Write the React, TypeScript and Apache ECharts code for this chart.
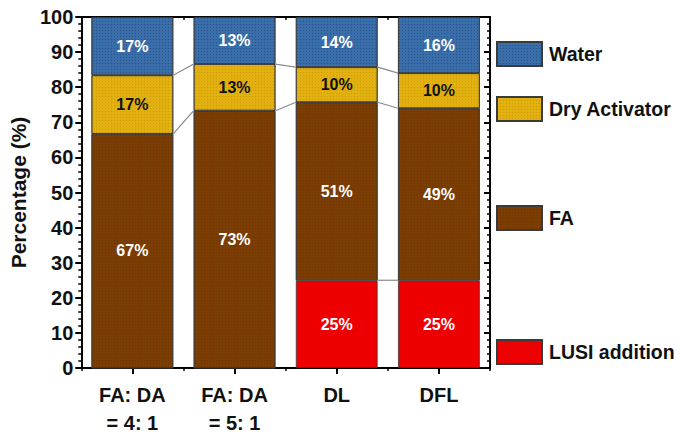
import React, { useEffect, useRef } from "react";
import * as echarts from "echarts";

const categories = ["FA: DA\n= 4: 1", "FA: DA\n= 5: 1", "DL", "DFL"];
const lusi = [0, 0, 25, 25];
const fa = [66.7, 73.3, 50.7, 49];
const da = [16.7, 13.3, 10, 10];
const water = [16.6, 13.4, 14.3, 16];
const yTicks = { min: 0, max: 100, interval: 10 };

const FONT = "'Liberation Sans', Arial, sans-serif";

export default function App() {
  const ref = useRef<HTMLDivElement>(null);
  useEffect(() => {
    if (!ref.current) return;
    const chart = echarts.init(ref.current, null, { renderer: "svg" });

    // connector lines between adjacent bars at stack boundaries
    const connectors: number[][] = [];
    for (let i = 0; i < categories.length - 1; i++) {
      const b1a = lusi[i], b1b = lusi[i + 1];
      const b2a = lusi[i] + fa[i], b2b = lusi[i + 1] + fa[i + 1];
      const b3a = b2a + da[i], b3b = b2b + da[i + 1];
      if (b1a > 0 && b1b > 0) connectors.push([i, b1a, b1b]);
      connectors.push([i, b2a, b2b]);
      connectors.push([i, b3a, b3b]);
    }

    const border = { borderColor: "#3a3a3a", borderWidth: 0.8 };
    const lbl = (color: string) => ({
      show: true,
      position: "inside" as const,
      color,
      fontFamily: FONT,
      fontWeight: "bold" as const,
      fontSize: 16,
      formatter: (p: any) => (p.value > 0 ? Math.round(p.value) + "%" : ""),
    });

    const catAxisBase = {
      type: "category" as const,
      data: categories,
      boundaryGap: true,
    };

    const legendBase = (name: string, top: number) => ({
      show: true,
      data: [name],
      left: 491,
      top,
      orient: "vertical" as const,
      itemWidth: 45,
      itemHeight: 24,
      icon: "rect",
      selectedMode: false,
      textStyle: {
        fontFamily: FONT,
        fontWeight: "bold" as const,
        fontSize: 19.5,
        color: "#111",
        padding: [0, 0, 0, 2],
      },
    });

    chart.setOption({
      animation: false,
      backgroundColor: "#fff",
      textStyle: { fontFamily: FONT },
      grid: { left: 77, right: 190, top: 17, bottom: 63, containLabel: false },
      legend: [
        legendBase("Water", 36),
        legendBase("Dry Activator", 91),
        legendBase("FA", 200),
        legendBase("LUSI addition", 334),
      ],
      xAxis: [
        {
          ...catAxisBase,
          position: "bottom",
          axisLine: { show: true, lineStyle: { color: "#000", width: 2 } },
          axisTick: { show: true, alignWithLabel: true, length: 6, lineStyle: { color: "#000", width: 2 } },
          axisLabel: {
            color: "#111",
            fontFamily: FONT,
            fontWeight: "bold",
            fontSize: 20,
            lineHeight: 28,
            margin: 13,
          },
          splitLine: { show: false },
        },
        {
          ...catAxisBase,
          position: "bottom",
          axisLine: { show: false },
          axisTick: { show: true, alignWithLabel: false, length: 3, lineStyle: { color: "#000", width: 1.5 } },
          axisLabel: { show: false },
          splitLine: { show: false },
        },
        {
          ...catAxisBase,
          position: "top",
          axisLine: { show: true, lineStyle: { color: "#000", width: 2 } },
          axisTick: { show: true, inside: true, alignWithLabel: true, length: 6, lineStyle: { color: "#000", width: 2 } },
          axisLabel: { show: false },
          splitLine: { show: false },
        },
        {
          ...catAxisBase,
          position: "top",
          axisLine: { show: false },
          axisTick: { show: true, inside: true, alignWithLabel: false, length: 3, lineStyle: { color: "#000", width: 1.5 } },
          axisLabel: { show: false },
          splitLine: { show: false },
        },
      ],
      yAxis: [
        {
          type: "value",
          position: "left",
          ...yTicks,
          name: "Percentage (%)",
          nameLocation: "middle",
          nameRotate: 90,
          nameGap: 50,
          nameTextStyle: { color: "#111", fontFamily: FONT, fontWeight: "bold", fontSize: 21 },
          axisLine: { show: true, lineStyle: { color: "#000", width: 2 } },
          axisTick: { show: true, length: 6, lineStyle: { color: "#000", width: 2 } },
          minorTick: { show: true, splitNumber: 5, length: 3, lineStyle: { color: "#000", width: 1.5 } },
          axisLabel: { color: "#111", fontFamily: FONT, fontWeight: "bold", fontSize: 20, margin: 8 },
          splitLine: { show: false },
          minorSplitLine: { show: false },
        },
        {
          type: "value",
          position: "right",
          ...yTicks,
          axisLine: { show: true, lineStyle: { color: "#000", width: 2 } },
          axisTick: { show: true, inside: true, length: 6, lineStyle: { color: "#000", width: 2 } },
          minorTick: { show: true, splitNumber: 5, length: 3, lineStyle: { color: "#000", width: 1.5 } },
          axisLabel: { show: false },
          splitLine: { show: false },
          minorSplitLine: { show: false },
        },
      ],
      series: [
        {
          name: "LUSI addition",
          type: "bar",
          stack: "total",
          barWidth: "80%",
          data: lusi,
          itemStyle: { color: "#ee0000", ...border },
          label: lbl("#fff"),
        },
        {
          name: "FA",
          type: "bar",
          stack: "total",
          barWidth: "80%",
          data: fa,
          itemStyle: {
            color: "#7b3d02",
            ...border,
            decal: { symbol: "rect", symbolSize: 1, dashArrayX: [1, 2], dashArrayY: [1, 2], color: "rgba(0,0,0,0.12)" },
          },
          label: lbl("#fff"),
        },
        {
          name: "Dry Activator",
          type: "bar",
          stack: "total",
          barWidth: "80%",
          data: da,
          itemStyle: {
            color: "#e2b10f",
            ...border,
            decal: { symbol: "rect", symbolSize: 1, dashArrayX: [1, 2], dashArrayY: [1, 2], color: "rgba(140,90,0,0.25)" },
          },
          label: lbl("#111"),
        },
        {
          name: "Water",
          type: "bar",
          stack: "total",
          barWidth: "80%",
          data: water,
          itemStyle: {
            color: "#3a6eab",
            ...border,
            decal: { symbol: "rect", symbolSize: 1, dashArrayX: [1, 2], dashArrayY: [1, 2], color: "rgba(10,30,70,0.35)" },
          },
          label: lbl("#fff"),
        },
        {
          name: "connectors",
          type: "custom",
          data: connectors,
          encode: { x: 0, y: 1 },
          silent: true,
          z: 3,
          renderItem: (params: any, api: any) => {
            const i = api.value(0);
            const v1 = api.value(1);
            const v2 = api.value(2);
            const p1 = api.coord([i, v1]);
            const p2 = api.coord([i + 1, v2]);
            const half = api.size([1, 0])[0] * 0.4;
            return {
              type: "line",
              shape: { x1: p1[0] + half, y1: p1[1], x2: p2[0] - half, y2: p2[1] },
              style: { stroke: "#8a8a8a", lineWidth: 1.2 },
            };
          },
        },
      ],
    });
    return () => chart.dispose();
  }, []);
  return <div ref={ref} style={{ width: 680, height: 437, position: "absolute", left: 0, top: 0 }} />;
}
